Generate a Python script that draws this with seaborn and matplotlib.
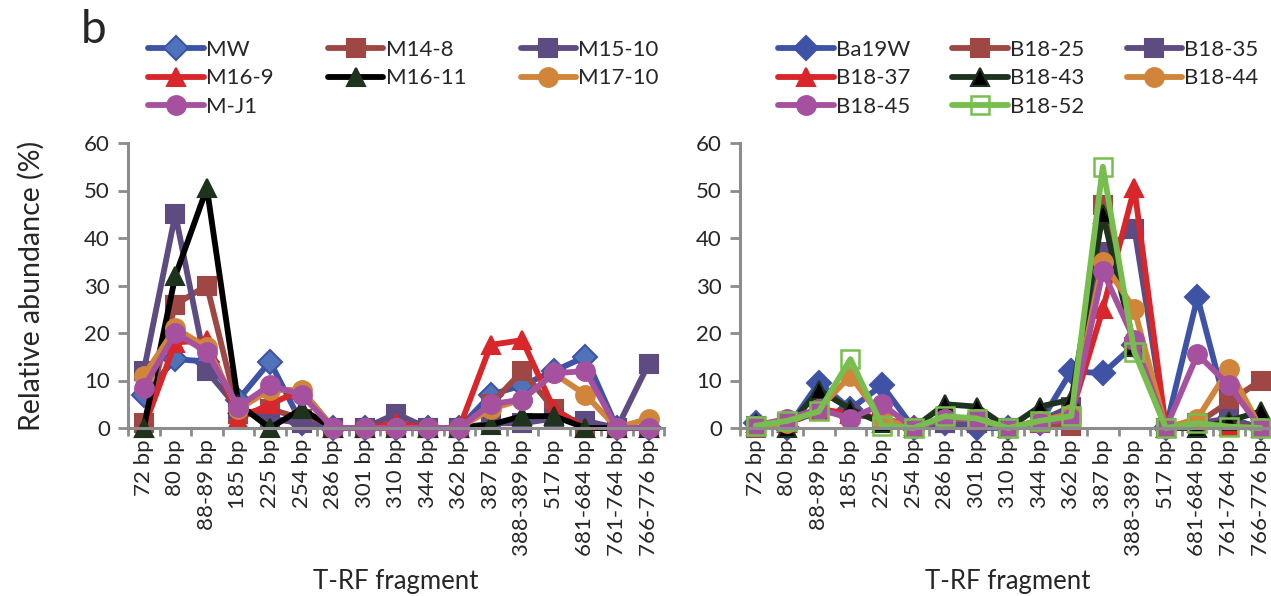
import numpy as np
import pandas as pd
import matplotlib
matplotlib.use("Agg")
import matplotlib.pyplot as plt
import seaborn as sns
from matplotlib.ticker import FixedLocator, MultipleLocator

sns.set_style("white")
plt.rcParams['font.family'] = ['Lato', 'DejaVu Sans']

categories = ["72 bp", "80 bp", "88-89 bp", "185 bp", "225 bp", "254 bp", "286 bp",
              "301 bp", "310 bp", "344 bp", "362 bp", "387 bp", "388-389 bp",
              "517 bp", "681-684 bp", "761-764 bp", "766-776 bp"]

# Left panel series
MW     = [7, 14.5, 14, 6, 14, 1, 0, 0, 0, 0, 0, 7, 9, 12, 15, 0, 0]
M14_8  = [1, 26, 30, 3, 4, 2, 0, 0, 0, 0, 0, 5, 12, 4, 0, 0, 0]
M15_10 = [12, 45, 12, 4, 2, 1, 0, 0, 3, 0, 0, 1, 1, 2, 1.5, 0, 13.5]
M16_9  = [0, 18, 18.5, 2, 5, 8, 0, 0, 1, 0, 0, 17.5, 18.5, 4, 0, 0, 0]
M16_11 = [0, 32, 50.5, 5, 0, 4, 0, 0, 0, 0, 0, 0.7, 2.5, 2.5, 0, 0, 0]
M17_10 = [11, 21, 17, 4, 8, 8, 0, 0, 0, 0, 0, 4, 6, 11.5, 7, 0, 2]
M_J1   = [8.5, 20, 16, 4.5, 9, 7, 0, 0, 0, 0, 0, 5, 6, 11.5, 12, 0, 0]

# Right panel series
Ba19W  = [1, 0, 9.5, 4, 9, 0, 1, 0, 0, 1, 12, 11.5, 17.5, 0, 27.5, 2, 0]
B18_25 = [0, 1, 3.5, 3, 2, 0, 1, 1, 0, 1, 0.5, 47, 17, 0, 1, 5.5, 10]
B18_35 = [0.5, 1, 3.5, 3, 2, 0, 1, 1, 0, 1.5, 4.5, 37, 42, 0, 1, 2, 0]
B18_37 = [0.5, 1, 4, 3, 2, 0.5, 2, 2, 0, 1.5, 3, 25, 50.5, 0, 1, 0.5, 0]
B18_43 = [1, 0, 8, 4, 1, 0, 5, 4.5, 0, 4.5, 6, 45, 17, 0, 0, 1.5, 3.5]
B18_44 = [0.5, 1, 4, 11, 2, 0, 2, 2, 0, 1.5, 3, 35, 25, 0, 2, 12.5, 0]
B18_45 = [0.5, 2, 4, 2, 5, 0, 2, 2, 0, 1, 2, 33, 18.5, 0, 15.5, 9, 0]
B18_52 = [0.5, 1.5, 3.5, 14.5, 0.5, 0, 2.5, 2, 0, 1.5, 2.5, 55, 16, 0, 1, 0.3, 0]

left_names = ["MW", "M14-8", "M15-10", "M16-9", "M16-11", "M17-10", "M-J1"]
left_vals = [MW, M14_8, M15_10, M16_9, M16_11, M17_10, M_J1]
right_names = ["Ba19W", "B18-25", "B18-35", "B18-37", "B18-43", "B18-44", "B18-45", "B18-52"]
right_vals = [Ba19W, B18_25, B18_35, B18_37, B18_43, B18_44, B18_45, B18_52]

BLUE, BROWN, PURPLE, RED = "#3F53A6", "#9E4744", "#5E4B82", "#D9262B"
ORANGE, MAGENTA, DKGREEN, GREEN = "#D0853A", "#A5519F", "#1E331E", "#78BE4E"

# name: (line color, marker, face, edge)
styles = {
    "MW": (BLUE, "D", "#4F73B8", BLUE),
    "M14-8": (BROWN, "s", BROWN, BROWN),
    "M15-10": (PURPLE, "s", PURPLE, PURPLE),
    "M16-9": (RED, "^", RED, RED),
    "M16-11": ("#000000", "^", DKGREEN, DKGREEN),
    "M17-10": (ORANGE, "o", ORANGE, ORANGE),
    "M-J1": (MAGENTA, "o", MAGENTA, MAGENTA),
    "Ba19W": (BLUE, "D", BLUE, BLUE),
    "B18-25": (BROWN, "s", BROWN, BROWN),
    "B18-35": (PURPLE, "s", PURPLE, PURPLE),
    "B18-37": (RED, "^", RED, RED),
    "B18-43": (DKGREEN, "^", "#000000", DKGREEN),
    "B18-44": (ORANGE, "o", ORANGE, ORANGE),
    "B18-45": (MAGENTA, "o", MAGENTA, MAGENTA),
    "B18-52": (GREEN, "s", "none", GREEN),
}

W, H = 1271, 596
fig = plt.figure(figsize=(W / 100, H / 100), dpi=100)
step = 31.55
axL = fig.add_axes([128 / W, 1 - 428 / H, 17 * step / W, 285 / H])
axR = fig.add_axes([740 / W, 1 - 428 / H, 17 * step / W, 285 / H])

x = np.arange(len(categories))
GRAY = "#8C8C8C"

def draw(ax, names, vals):
    for n, v in zip(names, vals):
        lc, mk, fc, ec = styles[n]
        ms = 13.5 if mk != "D" else 12.5
        df = pd.DataFrame({"x": x, "y": v})
        sns.lineplot(data=df, x="x", y="y", ax=ax, color=lc, linewidth=4.2,
                     marker=mk, markersize=ms, markerfacecolor=fc,
                     markeredgecolor=ec, markeredgewidth=1.5 if fc != "none" else 1.8,
                     clip_on=False, label=n, legend=False)
    ax.set_xlim(-0.5, len(categories) - 0.5)
    ax.set_ylim(0, 60)
    ax.yaxis.set_major_locator(MultipleLocator(10))
    ax.set_xticks(x)
    ax.set_xticklabels(categories, rotation=90, fontsize=16)
    ax.xaxis.set_minor_locator(FixedLocator(np.arange(-0.5, len(categories), 1)))
    ax.tick_params(axis="x", which="major", length=0, pad=8)
    ax.tick_params(axis="x", which="minor", length=6, width=2, color=GRAY, direction="out", bottom=True)
    ax.tick_params(axis="y", which="major", length=7, width=2, color=GRAY, direction="out", left=True,
                   labelsize=16, pad=6)
    for s in ["top", "right"]:
        ax.spines[s].set_visible(False)
    for s in ["left", "bottom"]:
        ax.spines[s].set_color(GRAY)
        ax.spines[s].set_linewidth(2.2)
    ax.set_xlabel("T-RF fragment", fontsize=18.5, labelpad=9)
    ax.set_ylabel("")
    ax.set_facecolor("none")

draw(axL, left_names, left_vals)
draw(axR, right_names, right_vals)
axL.set_ylabel("Relative abundance (%)", fontsize=20.5, labelpad=28)

def order_rowwise(h, l, ncol):
    idx = list(range(len(h)))
    cols = [idx[i::ncol] for i in range(ncol)]
    new = [i for c in cols for i in c]
    return [h[i] for i in new], [l[i] for i in new]

for ax, anchor, cs in [(axL, (148 / W, 1 - 40 / H), 2.45), (axR, (778 / W, 1 - 40 / H), 1.9)]:
    h, l = ax.get_legend_handles_labels()
    h, l = order_rowwise(h, l, 3)
    fig.legend(h, l, loc="upper left", bbox_to_anchor=anchor, ncol=3, frameon=False,
               fontsize=16, handlelength=2.5, handletextpad=0.1, columnspacing=cs,
               labelspacing=0.38, borderaxespad=0, borderpad=0)

fig.text(81 / W, 1 - 30 / H, "b", fontsize=33, va="center", ha="left")

fig.savefig("out.png", dpi=100)
